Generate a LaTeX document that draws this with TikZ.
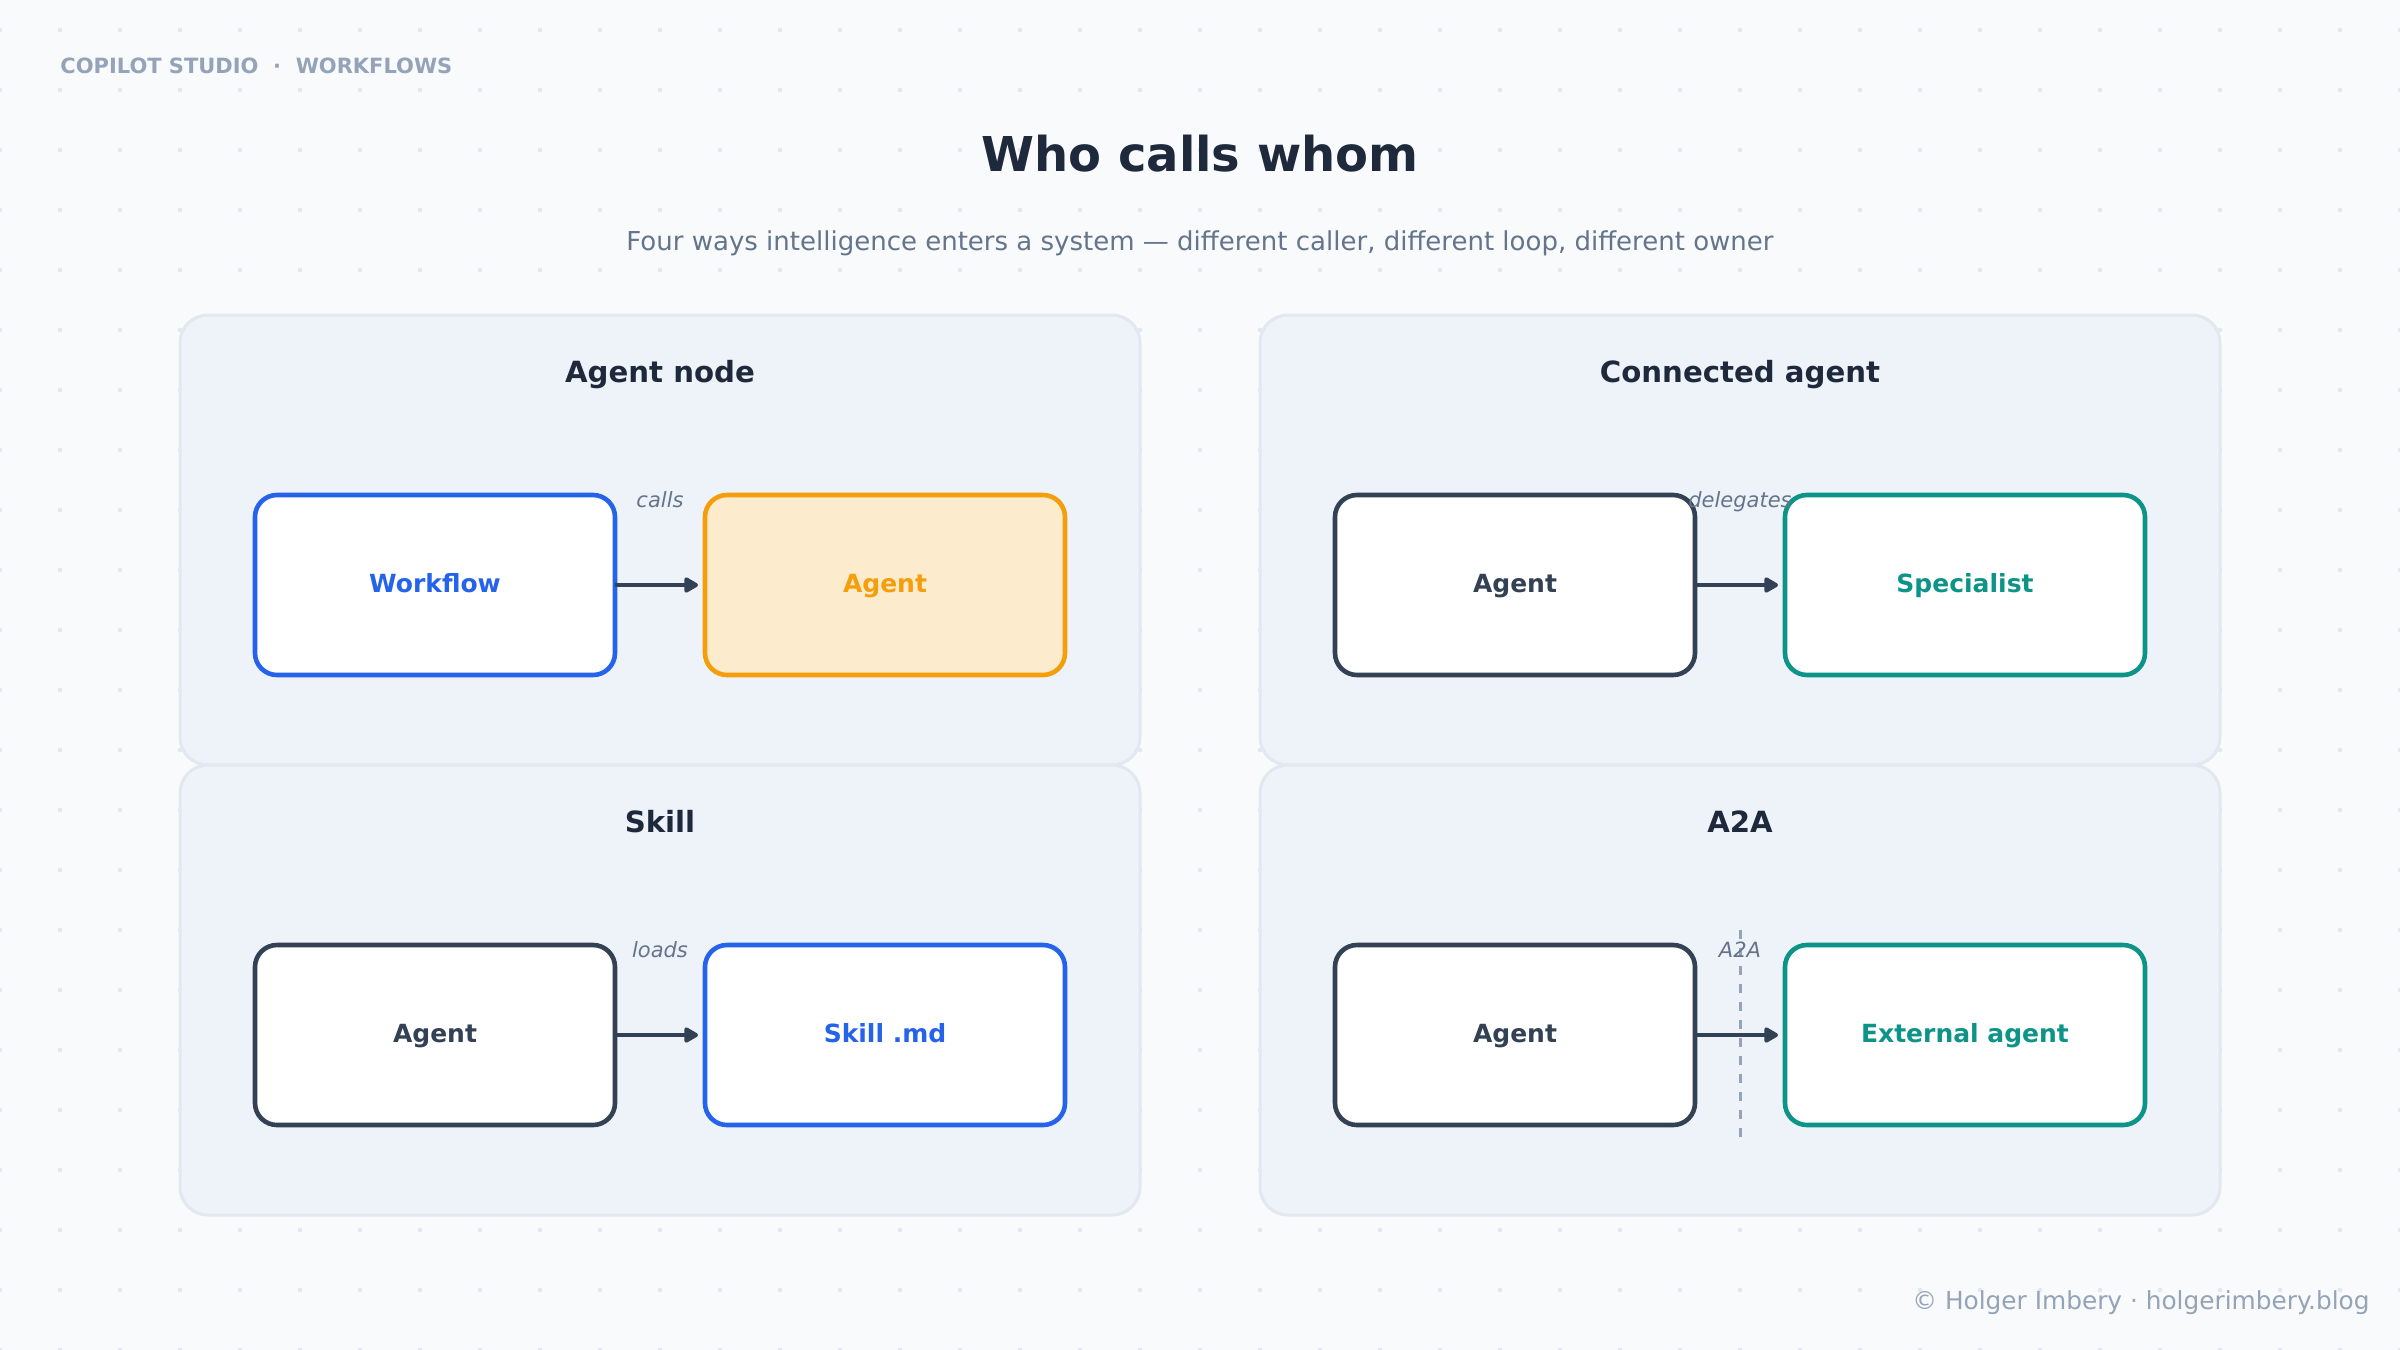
\documentclass[tikz,border=0pt]{standalone}
\usepackage{fontspec}
\setmainfont{DejaVu Sans}
\usetikzlibrary{arrows.meta,calc}
\definecolor{bgc}{HTML}{F8FAFC}
\definecolor{dotc}{HTML}{E2E8F0}
\definecolor{panelfill}{HTML}{EEF2F9}
\definecolor{panelborder}{HTML}{E2E8F0}
\definecolor{titlec}{HTML}{1E293B}
\definecolor{mutedc}{HTML}{64748B}
\definecolor{lightc}{HTML}{94A3B8}
\definecolor{slatec}{HTML}{334155}
\definecolor{bluec}{HTML}{2563EB}
\definecolor{orangec}{HTML}{F59E0B}
\definecolor{orangefill}{HTML}{FDEBCD}
\definecolor{tealc}{HTML}{0D9488}
\tikzset{
  panel/.style={draw=panelborder, line width=1.5pt, fill=panelfill, rounded corners=14pt,
    minimum width=480pt, minimum height=225pt, inner sep=0pt, outer sep=0pt},
  box/.style={line width=2.3pt, rounded corners=11pt, minimum width=180pt, minimum height=90pt,
    fill=white, font=\bfseries\fontsize{12.5}{14}\selectfont, outer sep=0pt, inner sep=0pt,
    text height=7pt, text depth=0pt},
  darkbox/.style={box, draw=slatec, text=slatec},
  bluebox/.style={box, draw=bluec, text=bluec},
  orangebox/.style={box, draw=orangec, fill=orangefill, text=orangec},
  tealbox/.style={box, draw=tealc, text=tealc},
  ptitle/.style={font=\bfseries\fontsize{14.6}{17}\selectfont, text=titlec, anchor=base, inner sep=0pt},
  clabel/.style={font=\itshape\fontsize{10.5}{12}\selectfont, text=mutedc, anchor=base, inner sep=0pt},
  conn/.style={draw=slatec, line width=2pt, -{Triangle[length=8pt,width=8.5pt,round]}, shorten >=3.5pt},
  boundary/.style={draw=lightc, line width=1.5pt, dash pattern=on 4.5pt off 4.5pt},
}
\begin{document}
\begin{tikzpicture}[x=0.5pt, y=-0.5pt]
\useasboundingbox (0,0) rectangle (2400,1350);
\fill[bgc] (0,0) rectangle (2400,1350);
\foreach \i in {0,...,40} {
  \foreach \j in {0,...,22} {
    \fill[dotc] ({60*\i},{30+60*\j}) circle (1.15pt);
  }
}
% header
\node[anchor=base west, inner sep=0pt, text=lightc, font=\bfseries\fontsize{10.5}{13}\selectfont] (hdr) at (60,73) {COPILOT STUDIO\ \ ·\ \ WORKFLOWS};
\node[anchor=base, inner sep=0pt, text=titlec, font=\bfseries\fontsize{24}{28}\selectfont] (title) at (1200,171) {Who calls whom};
\node[anchor=base, inner sep=0pt, text=mutedc, font=\fontsize{13}{15}\selectfont] (sub) at (1200,250) {Four ways intelligence enters a system — different caller, different loop, different owner};
% panels
\node[panel] (p1) at (660,540) {};
\node[panel] (p2) at (1740,540) {};
\node[panel] (p3) at (660,990) {};
\node[panel] (p4) at (1740,990) {};
% panel titles
\node[ptitle] (t1) at (660,382) {Agent node};
\node[ptitle] (t2) at (1740,382) {Connected agent};
\node[ptitle] (t3) at (660,832) {Skill};
\node[ptitle] (t4) at (1740,832) {A2A};
% boundary
\coordinate (bdtop) at (1740,930);
\coordinate (bdbot) at (1740,1140);
\draw[boundary] (bdtop) -- (bdbot);
% boxes
\node[bluebox] (wf) at (435,585) {Workflow};
\node[orangebox] (ag1) at (885,585) {Agent};
\node[darkbox] (ag2) at (1515,585) {Agent};
\node[tealbox] (spec) at (1965,585) {Specialist};
\node[darkbox] (ag3) at (435,1035) {Agent};
\node[bluebox] (skill) at (885,1035) {Skill .md};
\node[darkbox] (ag4) at (1515,1035) {Agent};
\node[tealbox] (ext) at (1965,1035) {External agent};
% connectors
\draw[conn] (wf.east) -- (ag1.west);
\draw[conn] (ag2.east) -- (spec.west);
\draw[conn] (ag3.east) -- (skill.west);
\draw[conn] (ag4.east) -- (ext.west);
% labels
\node[clabel] (l1) at (660,507) {calls};
\node[clabel] (l2) at (1740,507) {delegates};
\node[clabel] (l3) at (660,957) {loads};
\node[clabel] (l4) at (1740,957) {A2A};
% footer
\node[anchor=base east, inner sep=0pt, text=lightc, font=\fontsize{12.4}{14}\selectfont] (foot) at (2370,1309) {© Holger Imbery · holgerimbery.blog};
\end{tikzpicture}
\end{document}
